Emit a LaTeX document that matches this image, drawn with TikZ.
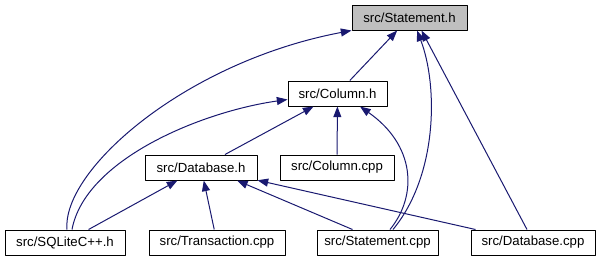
\documentclass[tikz,border=0pt]{standalone}
\usepackage{fontspec}
\setmainfont{Liberation Sans}
\usetikzlibrary{arrows.meta,calc}
\definecolor{edgeblue}{HTML}{191970}
\definecolor{boxgray}{HTML}{BFBFBF}

\begin{document}
\begin{tikzpicture}[x=0.75pt, y=-0.75pt, font=\fontsize{9.9}{11}\selectfont, line join=round,
		file/.style={draw=black, line width=0.75pt, fill=white, inner sep=0pt,
			minimum height=18.75pt, minimum width={#1*0.75pt}},
		dep/.style={draw=edgeblue, line width=0.75pt, -{Triangle[length=8pt,width=6pt]}}]
	\useasboundingbox (0,0) rectangle (600,261);
	%%%%%%%%%%%%%%%%%%%%%%%%%%%%%%%%%
	\node[file=115, fill=boxgray] (stmth) at (409.5,17.5) {src/Statement.h};
	\node[file=99] (colh) at (337.5,93.5) {src/Column.h};
	\node[file=112] (dbh) at (201,167.5) {src/Database.h};
	\node[file=114] (colcpp) at (337,167.5) {src/Column.cpp};
	\node[file=120] (sqlite) at (65,242.5) {src/SQLiteC++.h};
	\node[file=136] (trans) at (217,242.5) {src/Transaction.cpp};
	\node[file=121] (stmtcpp) at (377.5,242.5) {src/Statement.cpp};
	\node[file=124] (dbcpp) at (533,242.5) {src/Database.cpp};
	%%%%%%%%%%%%%%%%%%%%%%%%%%%%%%%%%
	% into src/Statement.h
	\draw[dep] ($(sqlite.north)+(2,0)$) .. controls (62,170) and (185,62) .. (stmth.south west);
	\draw[dep] (colh) -- (stmth);
	\draw[dep] ($(stmtcpp.north)+(15.5,0)$) .. controls (438,175) and (438,85) .. ($(stmth.south)+(7.5,0)$);
	\draw[dep] ($(dbcpp.north)+(-6,0)$) -- ($(stmth.south)+(12,0)$);
	% into src/Column.h
	\draw[dep] ($(sqlite.north)+(7,0)$) .. controls (85,160) and (200,112) .. ($(colh.west)+(0,6)$);
	\draw[dep] (dbh) -- (colh);
	\draw[dep] (colcpp) -- (colh);
	\draw[dep] ($(stmtcpp.north)+(12.5,0)$) .. controls (418,195) and (415,145) .. ($(colh.south)+(22.5,0)$);
	% into src/Database.h
	\draw[dep] (sqlite) -- (dbh);
	\draw[dep] (trans) -- (dbh);
	\draw[dep] ($(stmtcpp.north)+(-25,0)$) -- ($(dbh.south)+(36,0)$);
	\draw[dep] (dbcpp) -- (dbh);
	%%%%%%%%%%%%%%%%%%%%%%%%%%%%%%%%%
\end{tikzpicture}
\end{document}
